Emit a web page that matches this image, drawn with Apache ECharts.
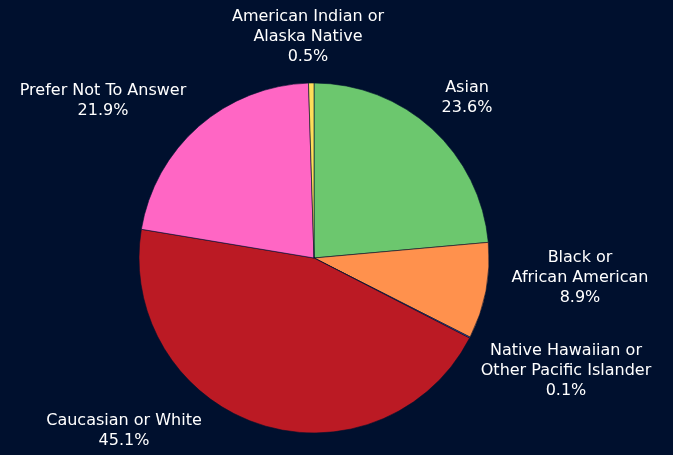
<!DOCTYPE html>
<html><head><meta charset="utf-8">
<script src="https://cdn.jsdelivr.net/npm/echarts@6/dist/echarts.min.js"></script>
<style>html,body{margin:0;padding:0;background:#00102e;}#c{width:673px;height:455px;}</style>
</head><body><div id="c"></div>
<script>
const categories = ["Asian", "Black or\nAfrican American", "Native Hawaiian or\nOther Pacific Islander", "Caucasian or White", "Prefer Not To Answer", "American Indian or\nAlaska Native"];
const percents = [23.6, 8.9, 0.1, 45.1, 21.9, 0.5];
const colors = ["#6cc76e", "#ff914d", "#5170ff", "#bb1a24", "#ff66c4", "#ffde59"];
// label centre positions (layout only)
const labelCenters = [[467, 98], [580, 278], [566, 371], [124, 431], [103, 101], [308, 37]];

const chart = echarts.init(document.getElementById('c'), null, {renderer: 'canvas'});
chart.setOption({
  backgroundColor: '#00102e',
  animation: false,
  series: [{
    type: 'pie',
    center: [314, 258],
    radius: 175,
    startAngle: 90,
    clockwise: true,
    avoidLabelOverlap: false,
    data: categories.map((n, i) => ({name: n, value: percents[i], itemStyle: {color: colors[i]}})),
    itemStyle: {borderColor: '#00102e', borderWidth: 0.6},
    label: {
      show: true,
      position: 'outside',
      formatter: p => p.name + '\n' + p.value.toFixed(1) + '%',
      color: '#ffffff',
      fontFamily: 'DejaVu Sans',
      fontSize: 16,
      lineHeight: 20,
      align: 'center'
    },
    labelLine: {show: false},
    labelLayout: p => ({x: labelCenters[p.dataIndex][0], y: labelCenters[p.dataIndex][1], align: 'center', verticalAlign: 'middle'}),
    emphasis: {disabled: true}
  }]
});
</script></body></html>
